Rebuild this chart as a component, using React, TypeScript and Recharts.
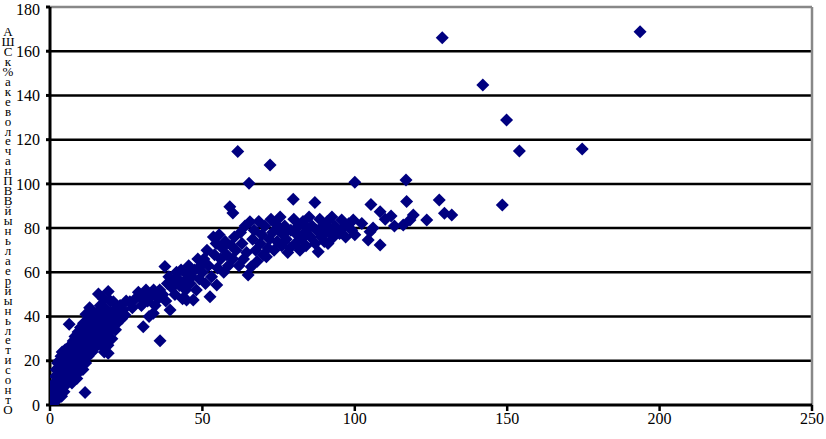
import React from "react";
import { ScatterChart, Scatter, XAxis, YAxis, CartesianGrid, ReferenceLine, Label } from "recharts";

// [relative GDP per capita, ratio]
const lowIncome: [number, number][] = [
  [0.3,0.5],[0.5,1.5],[0.6,3],[0.8,0.8],[1,2.5],[1,5],[1.2,8],[1.3,1],[1.5,3.5],[1.5,10],[1.7,6],[1.8,13],
  [2,2],[2,4.5],[2,8],[2,16],[2.2,11],[2.4,6],[2.5,19],[2.6,3],[2.8,9],[2.8,14],[3,5],[3,12],[3,17],[3,20],
  [3.2,7.5],[3.4,10],[3.5,15],[3.6,22],[3.8,4],[3.9,12.5],[4,8],[4,18],[4,24],[4.2,14],[4.4,10],[4.5,20],
  [4.6,6],[4.8,16],[5,12],[5,22],[5,25],[5.2,9],[5.4,18],[5.5,14],[5.6,24],[5.8,20],[6,11],[6,16],[6,26],
  [6.2,22],[6.3,36.5],[6.5,13],[6.5,18],[6.8,24],[7,15],[7,20],[7,27],[7.2,10],[7.4,17],[7.5,22],[7.6,29],
  [7.8,14],[8,19],[8,25],[8.2,31],[8.4,16],[8.5,22],[8.6,27],[8.8,12],[9,18],[9,24],[9,30],[9.2,33],[9.4,21],
  [9.5,27],[9.6,15],[9.8,24],[10,19],[10,29],[10,35],[10.3,22],[10.5,32],[10.6,26],[10.8,16],[11,28],[11,37],
  [11.2,23],[11.5,5.7],[11.5,31],[11.7,19],[11.8,41],[12,26],[12,34],[12.3,29],[12.5,22],[12.6,38],[13,31],
  [13,44],[13.2,27],[13.5,35],[13.8,24],[14,32],[14,40],[14.3,29],[14.5,37],[14.8,26],
];

const lowerMiddle: [number, number][] = [
  [15,34],[15.2,28],[15.5,42],[15.9,50.2],[16,31],[16,38],[16.5,45],[16.8,27],[17,35],[17,41],[17.4,32],
  [17.5,48],[17.8,24],[18,38],[18,44],[18.4,30],[18.6,36],[19,27],[19.1,51.3],[19.1,23.4],[19.3,41],[19.5,33],
  [19.8,47],[20,36],[20.3,30],[20.8,46.7],[21,39],[21,43],[21.5,34],[22,37],[22.5,41],[23,45],[23.5,39],
  [24,43],[24.6,40.7],[25,47],[26.2,46.7],[27,44],[28,48],[29,51],[29.5,49],[30,45],[30.6,35.4],[31,50],
  [31.5,52],[32,47],[32.5,40],[33,49],[33.9,41.5],[34,52],[34.5,45],[35,50],[35.5,48],[36,52],[36.1,29.1],
  [37,50],[37.7,62.6],[38,47],[38.5,55],[39,58],[39.4,43],[40,53],[40.5,56],[41,50],[41.5,60],[42,57],
  [42.5,54],[43,61],[43.5,48],[44,56],[44.5,52],[44.8,47.5],[45,59],[45.5,63],[46,55],[46.5,58],[47,47.5],
  [47.5,61],[48,52],[48.5,66],[49,57],[49.5,63],
];

const upperMiddle: [number, number][] = [
  [50,60],[50.5,66],[51,55],[51.5,70],[52,63],[52.5,49],[53,58],[53.6,76],[54,68],[54.5,73],[54.7,54.3],
  [55,62],[55.5,77],[56,66],[56.5,71],[57,60],[57.5,74],[58,68],[58.5,63],[59,89.7],[59.5,72],[60,86.8],
  [60,66],[60.5,76],[61,70],[61.6,114.6],[62,63],[62.5,78],[63,73],[63.5,66],[64,81],[64.5,69],[65,58.8],
  [65.3,100.3],[65.6,82.9],[66,62.5],[66.5,75],[67,79],[67.5,70],[68,65],[68.5,83],[69,73],[69.5,77],[70,68],
  [70.5,81],[71,67],[71.5,71],[72,75],[72.2,108.5],[72.5,84],[73,78],[73.5,70],[74,82],[74.5,74],[75,79],
  [75.5,85],[76,72],[76.5,77],[77,81],[77.5,75],[78,69],[78.7,71],[79,79],[79.8,93],[80,84],[80.5,73],[81,77],
  [81.5,81],[82,70],[82.5,75],[83,83],[83.5,78],[84,72],[84.5,80],[85,85],[85.5,76],[86,81],[86.9,91.6],[87,73],
  [87.5,79],[88,69.3],[88.5,84],[89,76],[89.5,81],[90,74],[90.5,78],[91,83],[91.2,73],[92,79],[92.5,85],[93,76],
  [93.5,81],[94,78],[95,77.6],[95.7,83.7],[96,80],[97,76],[98,82],[99,79],[99.5,83.7],[100,100.7],[100,77],
];

const highIncome: [number, number][] = [
  [102.3,82.1],[104.4,74.6],[105,78.4],[105.3,90.7],[106,80],[108.3,72.4],[108.3,87.4],[110,84],[111.9,85.5],
  [113,81],[115.9,81.4],[116.8,101.8],[117,92],[118.1,83.7],[119.2,85.9],[123.6,83.7],[127.7,92.7],[128.7,166.1],
  [129.4,86.7],[131.8,85.9],[142,144.7],[148.4,90.5],[149.8,128.9],[154,114.9],[174.6,115.8],[193.6,168.8],
];

const xTicks = [0, 50, 100, 150, 200, 250];
const yTicks = [0, 20, 40, 60, 80, 100, 120, 140, 160, 180];
const gridValues = [20, 40, 60, 80, 100, 120, 140, 160];
const yAxisTitle = "Относительный реальный ВВП на человека, % к США";

const data = [...lowIncome, ...lowerMiddle, ...upperMiddle, ...highIncome].map(([x, y]) => ({ x, y }));

const FONT = "'Liberation Serif', 'Times New Roman', serif";
const NAVY = "#000080";

const Diamond = (props: any) => {
  const { cx, cy } = props;
  if (cx == null || cy == null) return null;
  const r = 6.5;
  return (
    <polygon
      points={`${cx},${cy - r} ${cx + r},${cy} ${cx},${cy + r} ${cx - r},${cy}`}
      fill={NAVY}
    />
  );
};

const VerticalTitle = () => {
  const chars = Array.from(yAxisTitle.replace(/[ ,]/g, "")).reverse();
  return (
    <text fontFamily={FONT} fontSize={13} fill="#000" textAnchor="middle">
      {chars.map((c, i) => (
        <tspan key={i} x={8} y={36 + i * 9.95}>
          {c}
        </tspan>
      ))}
    </text>
  );
};

export default function App() {
  const tickStyle = { fill: "#000", fontSize: 16, fontFamily: FONT };
  return (
    <div style={{ position: "absolute", left: 0, top: 0, width: 826, height: 439, background: "#fff" }}>
      <ScatterChart width={826} height={439} margin={{ top: 7, right: 14, bottom: 0, left: 0 }}>
        <CartesianGrid horizontal={true} vertical={false} horizontalValues={gridValues} stroke="#000" strokeWidth={2.5} />
        <XAxis
          type="number"
          dataKey="x"
          domain={[0, 250]}
          ticks={xTicks}
          height={34}
          tickSize={6}
          tickMargin={2}
          tick={tickStyle}
          axisLine={{ stroke: "#000", strokeWidth: 3 }}
          tickLine={{ stroke: "#000", strokeWidth: 2.5 }}
          allowDataOverflow
        />
        <YAxis
          type="number"
          dataKey="y"
          domain={[0, 180]}
          ticks={yTicks}
          width={50}
          tickSize={4}
          tickMargin={6}
          tick={tickStyle}
          axisLine={{ stroke: "#000", strokeWidth: 3 }}
          tickLine={{ stroke: "#000", strokeWidth: 3 }}
          allowDataOverflow
        >
          <Label content={<VerticalTitle />} />
        </YAxis>
        <ReferenceLine y={180} stroke="#888" strokeWidth={2.5} />
        <ReferenceLine x={250} stroke="#888" strokeWidth={2.5} />
        <Scatter data={data} shape={<Diamond />} isAnimationActive={false} />
      </ScatterChart>
    </div>
  );
}
